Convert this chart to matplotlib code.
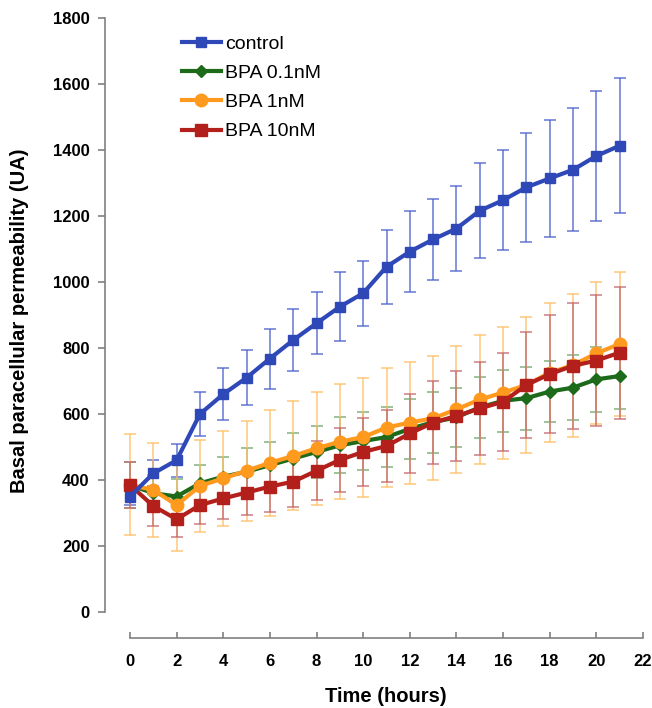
import matplotlib
matplotlib.use('Agg')
import matplotlib.pyplot as plt

plt.rcParams['font.family'] = ['Liberation Sans', 'DejaVu Sans']

hours = list(range(22))

control = [350, 420, 460, 600, 660, 710, 768, 824, 875, 925, 966, 1046,
           1092, 1129, 1162, 1216, 1248, 1287, 1314, 1340, 1382, 1413]
control_err = [25, 40, 50, 68, 78, 83, 91, 93, 94, 104, 98, 112,
               123, 122, 130, 144, 152, 166, 178, 186, 197, 205]

bpa01 = [385, 360, 350, 390, 410, 425, 445, 465, 485, 505, 518, 530,
         555, 575, 590, 620, 640, 648, 668, 680, 705, 715]
bpa01_err = [70, 55, 53, 55, 61, 73, 71, 78, 80, 85, 88, 90,
             91, 92, 90, 92, 94, 95, 92, 98, 98, 101]

bpa1 = [385, 370, 324, 382, 405, 428, 452, 473, 496, 516, 530, 559,
        574, 587, 614, 644, 665, 688, 725, 748, 784, 812]
bpa1_err = [153, 143, 140, 140, 145, 152, 160, 165, 172, 175, 180, 180,
            185, 188, 192, 196, 200, 205, 211, 217, 215, 218]

bpa10 = [385, 321, 281, 324, 344, 362, 380, 395, 428, 461, 485, 503,
         541, 574, 594, 617, 637, 688, 721, 746, 762, 786]
bpa10_err = [70, 60, 55, 57, 63, 68, 76, 76, 89, 96, 103, 108,
             119, 127, 135, 140, 148, 162, 180, 190, 198, 200]

labels = ['control', 'BPA 0.1nM', 'BPA 1nM', 'BPA 10nM']

fig = plt.figure(figsize=(6.52, 7.08), dpi=100)
ax = fig.add_axes([130 / 652, 96 / 708, 513 / 652, 594 / 708])

series = [
    (control, control_err, '#2f48b8', '#4d62cc', 's', 7, labels[0], 5),
    (bpa01, bpa01_err, '#1d6a1a', '#6fa56a', 'D', 6, labels[1], 2),
    (bpa1, bpa1_err, '#ff9a1e', '#ffbf66', 'o', 9, labels[2], 3),
    (bpa10, bpa10_err, '#b3201c', '#c46a6f', 's', 8, labels[3], 4),
]

handles = []
for y, err, col, ecol, mk, ms, lab, z in series:
    ax.errorbar(hours, y, yerr=err, fmt='none', ecolor=ecol, elinewidth=1.2,
                capsize=4, capthick=1.2, alpha=0.8, zorder=1, clip_on=False)
    h, = ax.plot(hours, y, color=col, lw=3, marker=mk, markersize=ms,
                 label=lab, zorder=z, clip_on=False)
    handles.append(h)

ax.set_xlim(0, 22)
ax.set_ylim(0, 1800)
ax.set_xticks(range(0, 23, 2))
ax.set_yticks(range(0, 1801, 200))

for s in ['top', 'right']:
    ax.spines[s].set_visible(False)
ax.spines['left'].set_position(('outward', 18))
ax.spines['bottom'].set_position(('outward', 19))
ax.spines['left'].set_bounds(0, 1800)
ax.spines['bottom'].set_bounds(0, 22)
for s in ['left', 'bottom']:
    ax.spines[s].set_color('#808080')
    ax.spines[s].set_linewidth(1.2)

ax.tick_params(axis='y', direction='out', length=5, width=1.2, color='#808080',
               pad=6, labelsize=12)
ax.tick_params(axis='x', direction='in', length=4, width=1.2, color='#808080',
               pad=11, labelsize=12)
for t in ax.get_xticklabels() + ax.get_yticklabels():
    t.set_fontweight('bold')

fig.text(20 / 652, 1 - 321 / 708, 'Basal paracellular permeability (UA)',
         rotation=90, ha='center', va='center', fontsize=14.5, fontweight='bold')
fig.text(386 / 652, 1 - 696 / 708, 'Time (hours)', ha='center', va='center',
         fontsize=14.5, fontweight='bold')

fig.legend(handles=handles, loc='upper left', bbox_to_anchor=(182 / 652, 1 - 35 / 708),
           frameon=False, fontsize=14, handlelength=2.0, handletextpad=0.2,
           labelspacing=0.6, borderpad=0, borderaxespad=0)

fig.savefig('out.png', dpi=100)
